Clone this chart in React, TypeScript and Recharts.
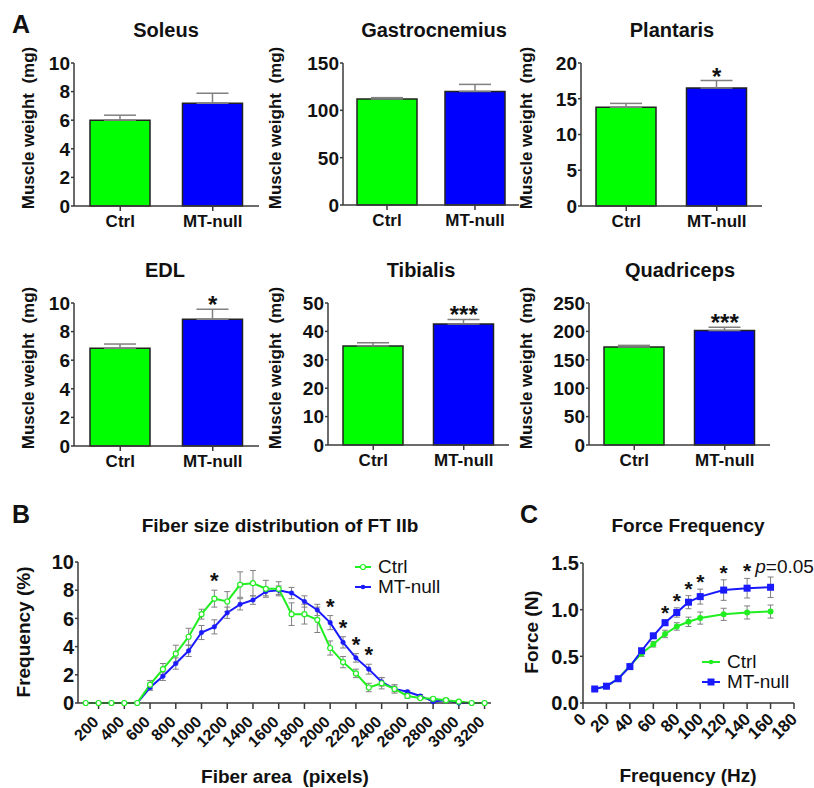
import React from "react";
import {
  BarChart,
  Bar,
  Cell,
  LineChart,
  Line,
  XAxis,
  YAxis,
  ErrorBar,
  ReferenceDot,
  Legend,
} from "recharts";

const FONT = '"Liberation Sans", Arial, Helvetica, sans-serif';
const BAR_GREEN = "#00ff00";
const BAR_BLUE = "#0000ff";
const LINE_GREEN = "#22ee22";
const LINE_BLUE = "#1a1aff";
const AXIS = "#3a3a3a";
const ERR = "#808080";
const INK = "#111111";

// A: muscle weight (mg), mean and SEM
const groups = ["Ctrl", "MT-null"];
const muscles = ["Soleus", "Gastrocnemius", "Plantaris", "EDL", "Tibialis", "Quadriceps"];
const ctrlWeight = [6.0, 112, 13.8, 6.83, 34.9, 172.5];
const ctrlWeightSem = [0.35, 1.4, 0.55, 0.3, 1.1, 2.9];
const mtWeight = [7.18, 120, 16.5, 8.86, 42.6, 201.5];
const mtWeightSem = [0.7, 7.4, 1.05, 0.7, 1.6, 5.9];
const weightSig = ["", "", "*", "*", "***", "***"];
const weightTicks = [
  [0, 2, 4, 6, 8, 10],
  [0, 50, 100, 150],
  [0, 5, 10, 15, 20],
  [0, 2, 4, 6, 8, 10],
  [0, 10, 20, 30, 40, 50],
  [0, 50, 100, 150, 200, 250],
];

// B: fiber size distribution (%), mean and SEM
const fiberArea = [
  100, 200, 300, 400, 500, 600, 700, 800, 900, 1000, 1100, 1200, 1300, 1400, 1500, 1600,
  1700, 1800, 1900, 2000, 2100, 2200, 2300, 2400, 2500, 2600, 2700, 2800, 2900, 3000, 3100, 3200,
];
const ctrlFreq = [
  0, 0, 0, 0, 0, 1.3, 2.4, 3.5, 4.7, 6.3, 7.4, 7.2, 8.4, 8.5, 8.1, 8.1,
  6.3, 6.3, 5.9, 3.9, 2.9, 2.1, 1.1, 1.4, 1.0, 0.5, 0.35, 0.3, 0.2, 0.1, 0, 0,
];
const ctrlFreqSem = [
  0, 0, 0, 0, 0, 0.3, 0.4, 0.6, 0.6, 0.35, 0.6, 0.7, 0.9, 0.9, 0.6, 0.5,
  0.8, 0.7, 0.9, 0.5, 0.4, 0.3, 0.3, 0.4, 0.3, 0.15, 0.1, 0.1, 0.1, 0.05, 0, 0,
];
const mtFreq = [
  0, 0, 0, 0, 0, 1.1, 1.9, 2.8, 3.7, 5.0, 5.4, 6.4, 7.0, 7.3, 7.9, 8.0,
  7.8, 7.2, 6.6, 5.7, 4.3, 3.2, 2.4, 1.5, 1.0, 0.8, 0.5, 0.1, 0.2, 0, 0, 0,
];
const mtFreqSem = [
  0, 0, 0, 0, 0, 0.2, 0.3, 0.4, 0.4, 0.5, 0.5, 0.4, 0.4, 0.3, 0.3, 0.3,
  0.4, 0.4, 0.4, 0.5, 0.4, 0.3, 0.35, 0.3, 0.2, 0.1, 0.1, 0.1, 0.1, 0, 0, 0,
];
const fiberTicks = [200, 400, 600, 800, 1000, 1200, 1400, 1600, 1800, 2000, 2200, 2400, 2600, 2800, 3000, 3200];
const freqPctTicks = [0, 2, 4, 6, 8, 10];
const fiberStars = [1100, 2000, 2100, 2200, 2300];
const fiberStarOver = ["ctrl", "mt", "mt", "mt", "mt"];

// C: force-frequency (N), mean and SEM
const stimFreq = [10, 20, 30, 40, 50, 60, 70, 80, 90, 100, 120, 140, 160];
const ctrlForce = [0.15, 0.18, 0.26, 0.4, 0.53, 0.63, 0.74, 0.82, 0.87, 0.91, 0.95, 0.97, 0.98];
const ctrlForceSem = [0.01, 0.01, 0.015, 0.02, 0.03, 0.03, 0.04, 0.04, 0.05, 0.065, 0.065, 0.07, 0.07];
const mtForce = [0.15, 0.18, 0.26, 0.39, 0.56, 0.72, 0.86, 0.97, 1.08, 1.14, 1.21, 1.23, 1.24];
const mtForceSem = [0.01, 0.01, 0.015, 0.02, 0.02, 0.02, 0.03, 0.05, 0.07, 0.08, 0.11, 0.105, 0.11];
const freqTicks = [0, 20, 40, 60, 80, 100, 120, 140, 160, 180];
const forceTicks = [0, 0.5, 1, 1.5];
const forceStars = [70, 80, 90, 100, 120, 140];
const forcePNoteAt = 160;

// page layout of the six bar panels
const barBoxes = [
  { left: 0, top: 0, plotLeft: 74, plotRight: 259, plotTop: 63, plotBottom: 206, labelX: 28, titleX: 166 },
  { left: 262, top: 0, plotLeft: 343, plotRight: 519, plotTop: 63, plotBottom: 205, labelX: 275, titleX: 434 },
  { left: 512, top: 0, plotLeft: 581, plotRight: 762, plotTop: 63, plotBottom: 206, labelX: 526, titleX: 672 },
  { left: 0, top: 240, plotLeft: 74, plotRight: 259, plotTop: 303, plotBottom: 446, labelX: 28, titleX: 165 },
  { left: 262, top: 240, plotLeft: 328, plotRight: 509, plotTop: 303, plotBottom: 445, labelX: 275, titleX: 421 },
  { left: 512, top: 240, plotLeft: 589, plotRight: 770, plotTop: 303, plotBottom: 445, labelX: 526, titleX: 680 },
];

const starLabel = (text: string, offset: number, fontSize: number) => ({
  value: text,
  position: "top" as const,
  offset,
  fontSize,
  fontWeight: 700,
  fill: INK,
});

// left axis numbers
const leftTick = (fontSize: number, fmt?: (v: number) => string) => (props: any) => {
  const { x, y, payload } = props;
  return (
    <text x={x} y={y} dy="0.36em" textAnchor="end" fontSize={fontSize} fontWeight={700} fill={INK}>
      {fmt ? fmt(payload.value) : payload.value}
    </text>
  );
};

// bottom category names
const bottomTick = (fontSize: number) => (props: any) => {
  const { x, y, payload } = props;
  return (
    <text x={x} y={y} dy="0.72em" textAnchor="middle" fontSize={fontSize} fontWeight={700} fill={INK}>
      {payload.value}
    </text>
  );
};

// slanted bottom numbers
const slantTick = (fontSize: number, shiftX: number) => (props: any) => {
  const { x, y, payload } = props;
  return (
    <g transform={`translate(${x + shiftX},${y})`}>
      <text transform="rotate(-45)" textAnchor="end" dy="0.35em" fontSize={fontSize} fontWeight={700} fill={INK}>
        {payload.value}
      </text>
    </g>
  );
};

function WeightPanel({ i }: { i: number }) {
  const box = barBoxes[i];
  const W = box.plotRight - box.left + 10;
  const H = 240;
  const rows = groups.map((g, k) => ({
    group: g,
    weight: k === 0 ? ctrlWeight[i] : mtWeight[i],
    sem: [0, k === 0 ? ctrlWeightSem[i] : mtWeightSem[i]],
  }));
  const ticks = weightTicks[i];
  return (
    <div style={{ position: "absolute", left: box.left, top: box.top }}>
      <BarChart
        width={W}
        height={H}
        data={rows}
        barSize={60}
        margin={{
          top: box.plotTop - box.top,
          right: 10,
          bottom: box.top + H - box.plotBottom - 30,
          left: box.plotLeft - box.left - 40,
        }}
      >
        <XAxis
          dataKey="group"
          height={30}
          stroke={AXIS}
          strokeWidth={1.5}
          tickSize={5}
          tickMargin={4}
          interval={0}
          tick={bottomTick(17)}
        />
        <YAxis
          width={40}
          domain={[0, ticks[ticks.length - 1]]}
          ticks={ticks}
          interval={0}
          stroke={AXIS}
          strokeWidth={1.5}
          tickSize={3}
          tickMargin={1}
          tick={leftTick(19)}
        />
        <Bar dataKey="weight" stroke="#222" strokeWidth={1.5} isAnimationActive={false}>
          {rows.map((r, k) => (
            <Cell key={r.group} fill={k === 0 ? BAR_GREEN : BAR_BLUE} />
          ))}
          <ErrorBar dataKey="sem" width={16} stroke={ERR} strokeWidth={1.5} direction="y" />
        </Bar>
        {weightSig[i] && (
          <ReferenceDot
            x="MT-null"
            y={mtWeight[i] + mtWeightSem[i]}
            r={1}
            fill="none"
            stroke="none"
            label={starLabel(weightSig[i], -5, 24)}
          />
        )}
      </BarChart>
    </div>
  );
}

type Marker = "openCircle" | "dot" | "square";

function MarkerIcon({ color, marker, len }: { color: string; marker: Marker; len: number }) {
  const mid = 3 + len / 2;
  return (
    <svg width={len + 6} height={12}>
      <line x1={3} x2={3 + len} y1={6} y2={6} stroke={color} strokeWidth={2} />
      {marker === "openCircle" && <circle cx={mid} cy={6} r={2.5} fill="#fff" stroke={color} strokeWidth={1.2} />}
      {marker === "dot" && <circle cx={mid} cy={6} r={2.3} fill={color} />}
      {marker === "square" && <rect x={mid - 3.5} y={2.5} width={7} height={7} fill={color} />}
    </svg>
  );
}

function SeriesLegend({ markers, len }: { markers: Marker[]; len: number }) {
  const colors = [LINE_GREEN, LINE_BLUE];
  return (
    <div style={{ fontSize: 19, lineHeight: "20px", color: INK, fontFamily: FONT }}>
      {groups.map((g, k) => (
        <div key={g} style={{ display: "flex", alignItems: "center", height: 20 }}>
          <MarkerIcon color={colors[k]} marker={markers[k]} len={len} />
          <span style={{ marginLeft: 4, whiteSpace: "nowrap" }}>{g}</span>
        </div>
      ))}
    </div>
  );
}

function FiberPanel() {
  const rows = fiberArea.map((a, k) => ({
    area: a,
    ctrl: ctrlFreq[k],
    ctrlSem: ctrlFreqSem[k],
    mt: mtFreq[k],
    mtSem: mtFreqSem[k],
  }));
  return (
    <div style={{ position: "absolute", left: 0, top: 480 }}>
      <LineChart width={520} height={308} data={rows} margin={{ top: 82, right: 29, bottom: 35, left: 38 }}>
        <XAxis
          dataKey="area"
          type="number"
          domain={[40, 3250]}
          ticks={fiberTicks}
          interval={0}
          height={50}
          stroke={AXIS}
          strokeWidth={1.5}
          tickSize={6}
          tickMargin={10}
          tick={slantTick(16, -3)}
        />
        <YAxis
          width={40}
          domain={[0, 10]}
          ticks={freqPctTicks}
          interval={0}
          stroke={AXIS}
          strokeWidth={1.5}
          tickSize={3}
          tickMargin={1}
          tick={leftTick(20)}
        />
        <Line
          dataKey="mt"
          name="MT-null"
          stroke={LINE_BLUE}
          strokeWidth={2}
          dot={{ r: 2.3, fill: LINE_BLUE, stroke: LINE_BLUE, strokeWidth: 0.5 }}
          isAnimationActive={false}
        >
          <ErrorBar dataKey="mtSem" width={3} stroke={ERR} strokeWidth={1} direction="y" />
        </Line>
        <Line
          dataKey="ctrl"
          name="Ctrl"
          stroke={LINE_GREEN}
          strokeWidth={2}
          dot={{ r: 2.5, fill: "#fff", stroke: LINE_GREEN, strokeWidth: 1.2 }}
          isAnimationActive={false}
        >
          <ErrorBar dataKey="ctrlSem" width={3} stroke={ERR} strokeWidth={1} direction="y" />
        </Line>
        {fiberStars.map((a, j) => {
          const k = fiberArea.indexOf(a);
          const top = fiberStarOver[j] === "ctrl" ? ctrlFreq[k] + ctrlFreqSem[k] : mtFreq[k] + mtFreqSem[k];
          return (
            <ReferenceDot key={a} x={a} y={top} r={1} fill="none" stroke="none" label={starLabel("*", 1, 22)} />
          );
        })}
        <Legend
          layout="vertical"
          align="center"
          verticalAlign="middle"
          wrapperStyle={{ left: 352, top: 77, width: 120 }}
          content={() => <SeriesLegend markers={["openCircle", "dot"]} len={16} />}
        />
      </LineChart>
    </div>
  );
}

function ForcePanel() {
  const rows = stimFreq.map((f, k) => ({
    hz: f,
    ctrl: ctrlForce[k],
    ctrlSem: ctrlForceSem[k],
    mt: mtForce[k],
    mtSem: mtForceSem[k],
  }));
  const pk = stimFreq.indexOf(forcePNoteAt);
  return (
    <div style={{ position: "absolute", left: 520, top: 480 }}>
      <LineChart width={294} height={308} data={rows} margin={{ top: 83, right: 20, bottom: 35, left: 23 }}>
        <XAxis
          dataKey="hz"
          type="number"
          domain={[0, 180]}
          ticks={freqTicks}
          interval={0}
          height={50}
          stroke={AXIS}
          strokeWidth={1.5}
          tickSize={6}
          tickMargin={7}
          tick={slantTick(17, 0)}
        />
        <YAxis
          width={40}
          domain={[0, 1.5]}
          ticks={forceTicks}
          interval={0}
          stroke={AXIS}
          strokeWidth={1.5}
          tickSize={3}
          tickMargin={1}
          tick={leftTick(20, (v: number) => v.toFixed(1))}
        />
        <Line
          dataKey="ctrl"
          name="Ctrl"
          stroke={LINE_GREEN}
          strokeWidth={2}
          dot={{ r: 2, fill: LINE_GREEN, stroke: LINE_GREEN }}
          isAnimationActive={false}
        >
          <ErrorBar dataKey="ctrlSem" width={3} stroke={ERR} strokeWidth={1} direction="y" />
        </Line>
        <Line
          dataKey="mt"
          name="MT-null"
          stroke={LINE_BLUE}
          strokeWidth={2}
          dot={(p: any) => (
            <rect key={`sq-${p.index}`} x={p.cx - 3.5} y={p.cy - 3.5} width={7} height={7} fill={LINE_BLUE} />
          )}
          isAnimationActive={false}
        >
          <ErrorBar dataKey="mtSem" width={3} stroke={ERR} strokeWidth={1} direction="y" />
        </Line>
        {forceStars.map((f) => {
          const k = stimFreq.indexOf(f);
          return (
            <ReferenceDot
              key={f}
              x={f}
              y={mtForce[k] + mtForceSem[k]}
              r={1}
              fill="none"
              stroke="none"
              label={starLabel("*", -1, 21)}
            />
          );
        })}
        <ReferenceDot
          x={forcePNoteAt}
          y={mtForce[pk] + mtForceSem[pk]}
          r={1}
          fill="none"
          stroke="none"
          label={(props: any) => {
            const vb = props.viewBox || {};
            return (
              <text x={(vb.x ?? 0) + 15} y={(vb.y ?? 0) - 3} textAnchor="middle" fontSize={19} fill={INK}>
                <tspan fontStyle="italic">p</tspan>=0.05
              </text>
            );
          }}
        />
        <Legend
          layout="vertical"
          align="center"
          verticalAlign="middle"
          wrapperStyle={{ left: 179, top: 172, width: 110 }}
          content={() => <SeriesLegend markers={["dot", "square"]} len={18} />}
        />
      </LineChart>
    </div>
  );
}

export default function App() {
  return (
    <div
      style={{
        position: "absolute",
        left: 0,
        top: 0,
        width: 814,
        height: 788,
        background: "#fff",
        fontFamily: FONT,
        overflow: "hidden",
      }}
    >
      {muscles.map((m, i) => (
        <WeightPanel key={m} i={i} />
      ))}
      <FiberPanel />
      <ForcePanel />
      <svg
        width={814}
        height={788}
        style={{ position: "absolute", left: 0, top: 0, pointerEvents: "none", fontFamily: FONT }}
      >
        <g fill={INK} fontWeight={700}>
          <text x={12} y={33} fontSize={25}>A</text>
          <text x={12} y={523} fontSize={25}>B</text>
          <text x={520} y={523} fontSize={25}>C</text>
          {muscles.map((m, i) => (
            <text key={m} x={barBoxes[i].titleX} y={barBoxes[i].top + 37} fontSize={20} textAnchor="middle">
              {m}
            </text>
          ))}
          {muscles.map((m, i) => {
            const cx = barBoxes[i].labelX;
            const cy = barBoxes[i].top + 128;
            return (
              <text
                key={`yl-${m}`}
                x={cx}
                y={cy}
                fontSize={17}
                textAnchor="middle"
                dominantBaseline="central"
                transform={`rotate(-90 ${cx} ${cy})`}
                style={{ whiteSpace: "pre" }}
              >
                {"Muscle weight  (mg)"}
              </text>
            );
          })}
          <text x={280} y={532} fontSize={19} textAnchor="middle">Fiber size distribution of FT IIb</text>
          <text x={688} y={532} fontSize={19} textAnchor="middle">Force Frequency</text>
          <text x={23} y={632} fontSize={19} textAnchor="middle" dominantBaseline="central" transform="rotate(-90 23 632)">
            Frequency (%)
          </text>
          <text x={531} y={632} fontSize={19} textAnchor="middle" dominantBaseline="central" transform="rotate(-90 531 632)">
            Force (N)
          </text>
          <text x={285} y={783} fontSize={19} textAnchor="middle" style={{ whiteSpace: "pre" }}>
            {"Fiber area  (pixels)"}
          </text>
          <text x={688} y={782} fontSize={19} textAnchor="middle">Frequency (Hz)</text>
        </g>
      </svg>
    </div>
  );
}
